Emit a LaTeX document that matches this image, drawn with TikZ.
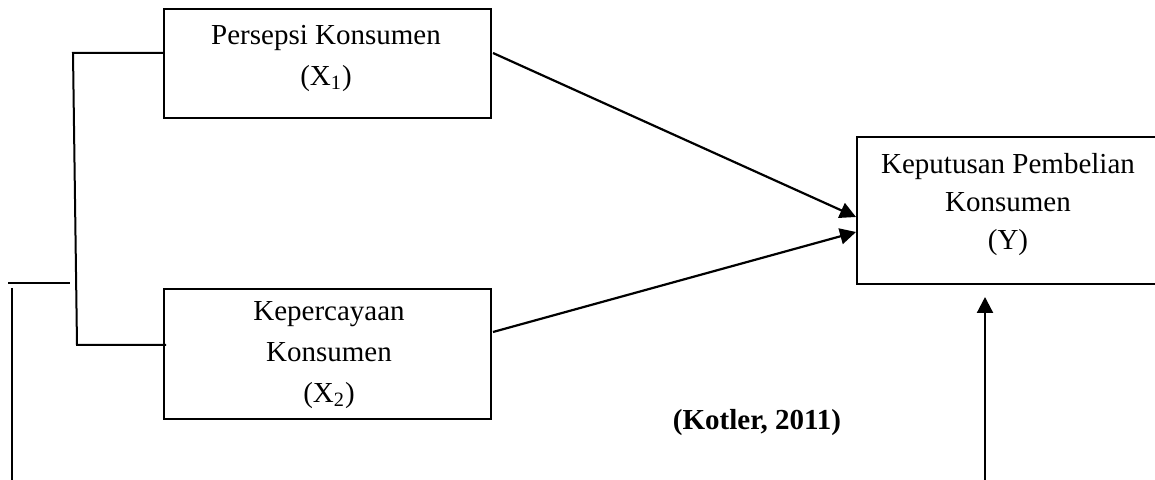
\documentclass[tikz,border=0pt]{standalone}
\usepackage{fontspec}
\setmainfont{Liberation Serif}
\usetikzlibrary{arrows.meta,calc}
\begin{document}
\begin{tikzpicture}[x=0.5pt,y=-0.5pt,
  boxnode/.style={draw,line width=1pt,rectangle,inner sep=0pt,anchor=north west},
  txt/.style={align=center,font=\fontsize{14.5}{20.5}\selectfont,inner sep=0pt},
  conn/.style={line width=1pt},
  arr/.style={line width=1.1pt,-{Triangle[length=8pt,width=8pt]}}]
\useasboundingbox (0,0) rectangle (1155,480);
\clip (0,0) rectangle (1155,480);
% boxes
\node[boxnode,minimum width=163.5pt,minimum height=54.5pt] (x1) at (163,8) {};
\node[boxnode,minimum width=163.5pt,minimum height=65pt] (x2) at (163,288) {};
\node[boxnode,minimum width=170pt,minimum height=73.5pt] (yb) at (856,136) {};
% texts
\node[txt] (x1t) at (326,58) {Persepsi Konsumen\\(X\textsubscript{1})};
\node[txt] (x2t) at (329,355) {Kepercayaan\\Konsumen\\(X\textsubscript{2})};
\node[txt,font=\fontsize{14.5}{19}\selectfont] (ybt) at (1008,205) {Keputusan Pembelian\\Konsumen\\(Y)};
\node[txt,font=\fontsize{14.5}{20.5}\selectfont\bfseries] (src) at (757,423) {(Kotler, 2011)};
% bracket
\coordinate (b1) at (73,53);
\coordinate (b2) at (77,345);
\coordinate (b3) at (166,345);
\draw[conn] (x1.west |- b1) -- (b1) -- (b2) -- (b3);
\coordinate (c1) at (8,283);
\coordinate (c2) at (70,283);
\draw[conn] (c1) -- (c2);
\coordinate (d1) at (12,288);
\coordinate (d2) at (12,490);
\draw[conn] (d1) -- (d2);
% arrows
\coordinate (a1s) at (493,53);
\coordinate (a2s) at (493,332);
\coordinate (a3s) at (985,490);
\draw[arr] (a1s) -- (yb.west |- 0,217);
\draw[arr] (a2s) -- (yb.west |- 0,232);
\draw[arr] (a3s) -- (985,297);
\end{tikzpicture}
\end{document}
